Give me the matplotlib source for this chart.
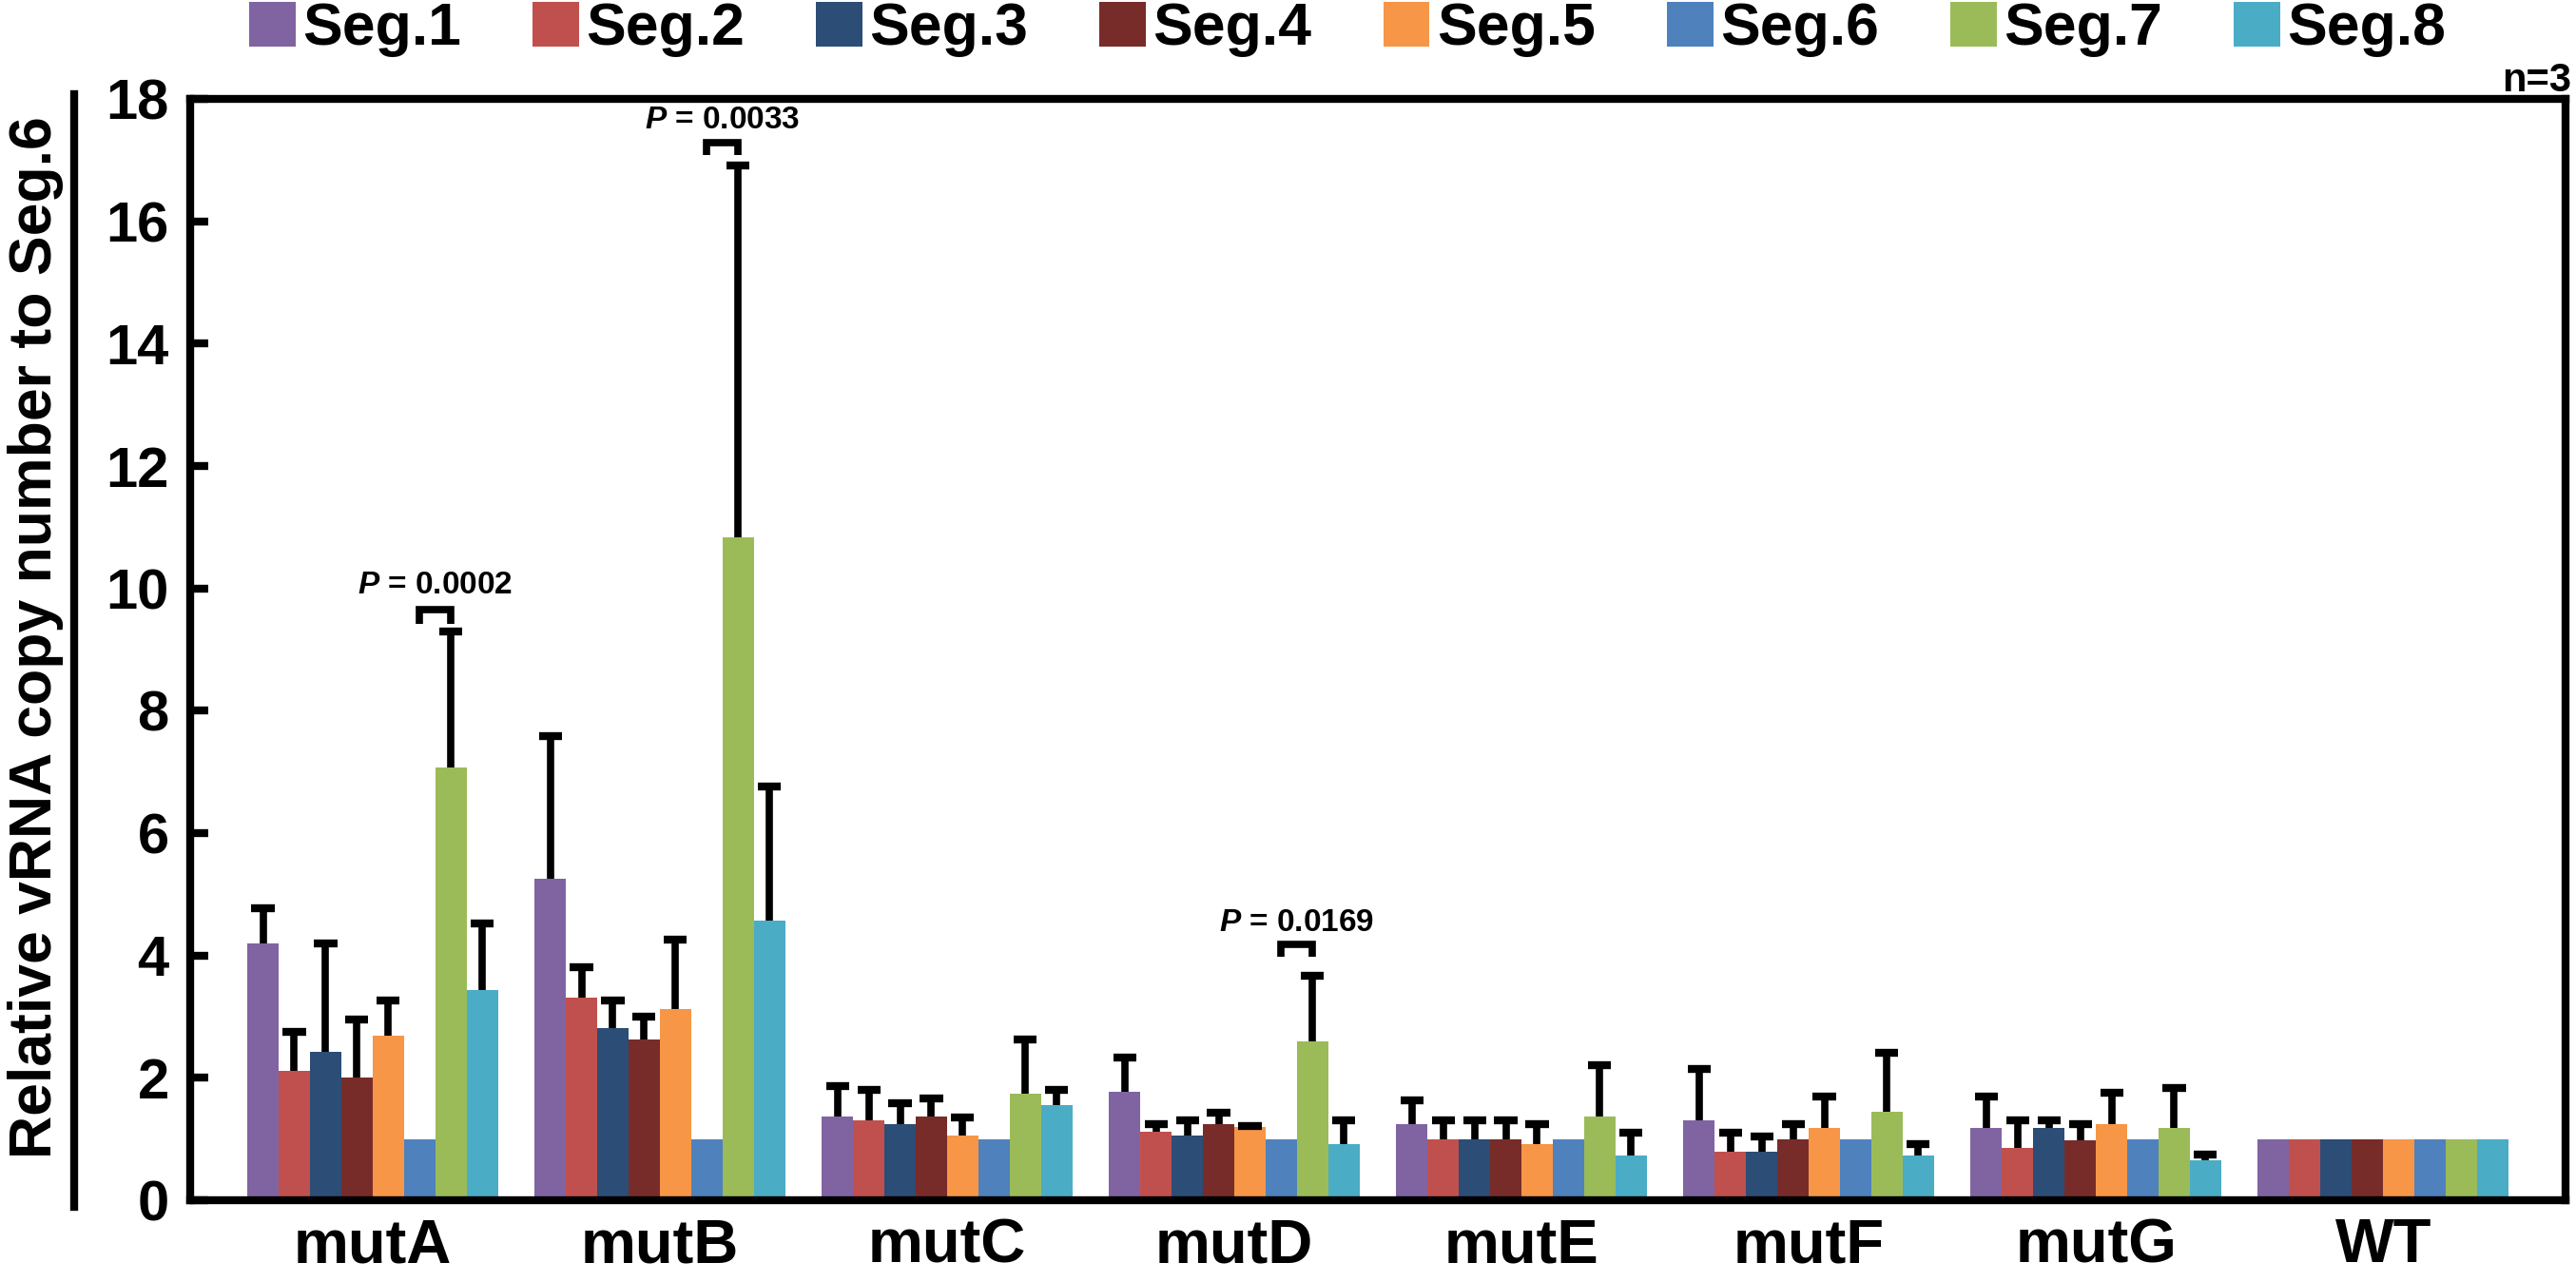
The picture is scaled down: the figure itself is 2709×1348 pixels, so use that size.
import numpy as np
import matplotlib
matplotlib.use("Agg")
import matplotlib.pyplot as plt
from matplotlib.lines import Line2D

plt.rcParams['font.family'] = ['Liberation Sans', 'DejaVu Sans']
plt.rcParams['mathtext.fontset'] = 'custom'
plt.rcParams['mathtext.it'] = 'Liberation Sans:bold:italic'
plt.rcParams['mathtext.rm'] = 'Liberation Sans:bold'

# data
groups = ["mutA", "mutB", "mutC", "mutD", "mutE", "mutF", "mutG", "WT"]
segments = ["Seg.1", "Seg.2", "Seg.3", "Seg.4", "Seg.5", "Seg.6", "Seg.7", "Seg.8"]
colors = ["#8064A2", "#C0504D", "#2C4D75", "#772C2A", "#F79646", "#4F81BD", "#9BBB59", "#4BACC6"]

nan = np.nan
mutA = [4.19, 2.12, 2.43, 2.00, 2.69, 1.0, 7.08, 3.44]
mutB = [5.26, 3.31, 2.81, 2.63, 3.12, 1.0, 10.83, 4.57]
mutC = [1.37, 1.30, 1.24, 1.37, 1.06, 1.0, 1.74, 1.55]
mutD = [1.77, 1.12, 1.05, 1.25, 1.19, 1.0, 2.60, 0.92]
mutE = [1.25, 1.00, 1.00, 1.00, 0.92, 1.0, 1.37, 0.73]
mutF = [1.31, 0.80, 0.80, 1.00, 1.18, 1.0, 1.44, 0.73]
mutG = [1.18, 0.86, 1.18, 0.98, 1.25, 1.0, 1.18, 0.65]
WT = [1.0, 1.0, 1.0, 1.0, 1.0, 1.0, 1.0, 1.0]

# upper SD (Seg.6 and WT have none)
sd_mutA = [0.58, 0.63, 1.77, 0.95, 0.57, nan, 2.22, 1.08]
sd_mutB = [2.33, 0.50, 0.45, 0.37, 1.14, nan, 6.08, 2.19]
sd_mutC = [0.50, 0.50, 0.35, 0.29, 0.29, nan, 0.88, 0.25]
sd_mutD = [0.56, 0.12, 0.25, 0.18, 0.03, nan, 1.07, 0.38]
sd_mutE = [0.38, 0.30, 0.30, 0.30, 0.32, nan, 0.83, 0.38]
sd_mutF = [0.84, 0.31, 0.24, 0.24, 0.51, nan, 0.97, 0.18]
sd_mutG = [0.51, 0.44, 0.12, 0.26, 0.51, nan, 0.65, 0.09]
sd_WT = [nan] * 8

# p-value brackets between Seg.6 and Seg.7
p_groups = [0, 1, 3]
p_texts = ["0.0002", "0.0033", "0.0169"]
p_bracket_top = [9.66, 17.28, 4.18]
p_bracket_leg = [9.42, 17.09, 3.98]
p_text_y = [9.92, 17.52, 4.40]

means = np.array([mutA, mutB, mutC, mutD, mutE, mutF, mutG, WT])
sds = np.array([sd_mutA, sd_mutB, sd_mutC, sd_mutD, sd_mutE, sd_mutF, sd_mutG, sd_WT])

W, H = 2709, 1348
fig = plt.figure(figsize=(W / 100, H / 100), dpi=100)
ax = fig.add_axes([200 / W, 1 - 1262 / H, 2498 / W, 1158 / H])

bw = 0.109
x = np.arange(len(groups))
bars = []
for i, seg in enumerate(segments):
    xs = x + (i - 3.5) * bw
    b = ax.bar(xs, means[:, i], width=bw, color=colors[i], label=seg, zorder=2)
    bars.append(b)
    tops = means[:, i] + sds[:, i]
    ax.vlines(xs, means[:, i], tops, color="black", lw=5.5, zorder=3)
    ax.hlines(tops, xs - 0.04, xs + 0.04, color="black", lw=6, zorder=3)

# significance brackets
for g, t, top, leg, ty in zip(p_groups, p_texts, p_bracket_top, p_bracket_leg, p_text_y):
    x6 = g + (5 - 3.5) * bw
    x7 = g + (6 - 3.5) * bw
    ax.plot([x6, x6, x7, x7], [leg, top, top, leg], color="black", lw=5.5,
            solid_joinstyle="miter", solid_capstyle="butt", zorder=3)
    ax.text((x6 + x7) / 2, ty, r"$P$ = " + t, ha="center", va="baseline",
            fontsize=24, fontweight="bold")

ax.set_xlim(-0.635, 7.635)
ax.set_ylim(0, 18)
ax.set_yticks(np.arange(0, 19, 2))
ax.set_xticks(x)
ax.set_xticklabels(groups, fontsize=47, fontweight="bold")
for lab in ax.get_yticklabels():
    lab.set_fontweight("bold")
ax.tick_params(axis="y", direction="in", length=14, width=6, labelsize=43, pad=16)
ax.tick_params(axis="x", length=0, pad=13)
for s in ax.spines.values():
    s.set_linewidth(6)

ax.legend(handles=bars, loc="center left", bbox_to_anchor=(262 / W, 1 - 31 / H),
          bbox_transform=fig.transFigure, ncol=8, frameon=False,
          prop={"weight": "bold", "size": 45}, handlelength=0.78, handleheight=0.78,
          handletextpad=0.12, columnspacing=1.2, borderaxespad=0, borderpad=0)

fig.text(2704 / W, 1 - 96 / H, "n=3", ha="right", va="baseline", fontsize=30, fontweight="bold")

fig.text(8 / W, 1 - 670 / H, "Relative vRNA copy number to Seg.6", rotation=90,
         ha="left", va="center", fontsize=45, fontweight="bold")
fig.add_artist(Line2D([78 / W, 78 / W], [1 - 1269 / H, 1 - 99 / H], color="black", lw=6,
                      transform=fig.transFigure))

fig.savefig("out.png", dpi=100)
